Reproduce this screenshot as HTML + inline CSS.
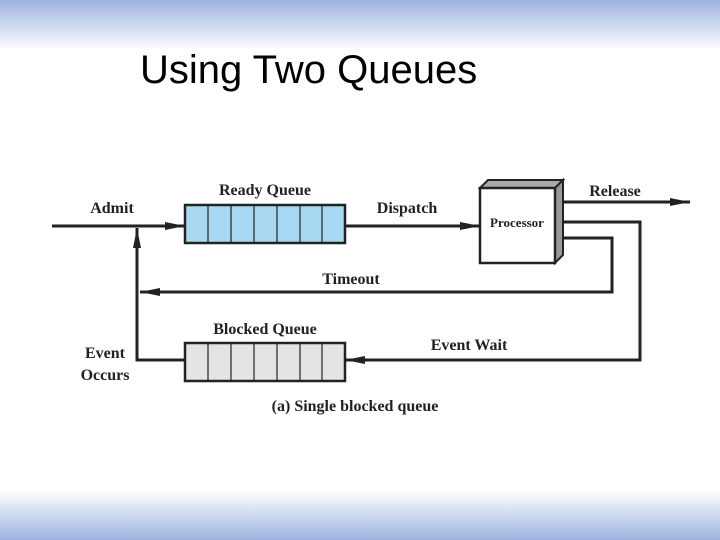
<!DOCTYPE html>
<html><head><style>
html,body{margin:0;padding:0;width:720px;height:540px;overflow:hidden;background:#fff;}
.top{position:absolute;left:0;top:0;width:720px;height:50px;background:linear-gradient(#9cb2df,#fff);}
.bot{position:absolute;left:0;top:490px;width:720px;height:50px;background:linear-gradient(#fff,#9cb2df);}
.t{position:absolute;left:140px;top:48px;font:40px "Liberation Sans",sans-serif;color:#000;}
svg{position:absolute;left:0;top:0;}
text{font-family:"Liberation Serif",serif;font-weight:bold;font-size:16px;fill:#222;}
</style></head><body>
<div class="top"></div><div class="bot"></div>
<div class="t">Using Two Queues</div>
<svg width="720" height="540">
<defs>
<marker id="b" markerWidth="20" markerHeight="8" refX="20" refY="4" orient="auto" markerUnits="userSpaceOnUse"><path d="M0,0L20,4L0,8z" fill="#222"/></marker></defs>
<g stroke="#222" stroke-width="3" fill="none">
<line x1="52" y1="226" x2="185" y2="226" marker-end="url(#b)"/>
<line x1="345" y1="226" x2="480" y2="226" marker-end="url(#b)"/>
<line x1="557" y1="202" x2="690" y2="202" marker-end="url(#b)"/>
<polyline points="557,222 640,222 640,360 345,360" marker-end="url(#b)"/>
<polyline points="557,238 612,238 612,292 140,292" marker-end="url(#b)"/>
<polyline points="185,360 137,360 137,228" marker-end="url(#b)"/>
</g>
<g stroke="#222" stroke-width="2.5">
<rect x="185" y="205" width="160" height="38" fill="#a9d8f2"/>
<rect x="185" y="343" width="160" height="38" fill="#e4e4e6"/>
</g>
<g stroke="#222" stroke-width="1.2">
<line x1="208" y1="205" x2="208" y2="243"/><line x1="231" y1="205" x2="231" y2="243"/><line x1="254" y1="205" x2="254" y2="243"/><line x1="277" y1="205" x2="277" y2="243"/><line x1="300" y1="205" x2="300" y2="243"/><line x1="322" y1="205" x2="322" y2="243"/>
<line x1="208" y1="343" x2="208" y2="381"/><line x1="231" y1="343" x2="231" y2="381"/><line x1="254" y1="343" x2="254" y2="381"/><line x1="277" y1="343" x2="277" y2="381"/><line x1="300" y1="343" x2="300" y2="381"/><line x1="322" y1="343" x2="322" y2="381"/>
</g>
<path d="M480,188L488,180L563,180L555,188z" fill="#aaa" stroke="#222" stroke-width="2"/>
<path d="M555,188L563,180L563,255L555,263z" fill="#999" stroke="#222" stroke-width="2"/>
<rect x="480" y="188" width="75" height="75" fill="#fff" stroke="#222" stroke-width="2.5"/>
<text x="112" y="213" text-anchor="middle">Admit</text>
<text x="265" y="195" text-anchor="middle">Ready Queue</text>
<text x="407" y="213" text-anchor="middle">Dispatch</text>
<text x="615" y="196" text-anchor="middle">Release</text>
<text x="517" y="227" text-anchor="middle" style="font-size:13px">Processor</text>
<text x="351" y="284" text-anchor="middle">Timeout</text>
<text x="265" y="334" text-anchor="middle">Blocked Queue</text>
<text x="469" y="350" text-anchor="middle">Event Wait</text>
<text x="105" y="358" text-anchor="middle">Event</text>
<text x="105" y="380" text-anchor="middle">Occurs</text>
<text x="355" y="411" text-anchor="middle">(a) Single blocked queue</text>
</svg>
</body></html>
